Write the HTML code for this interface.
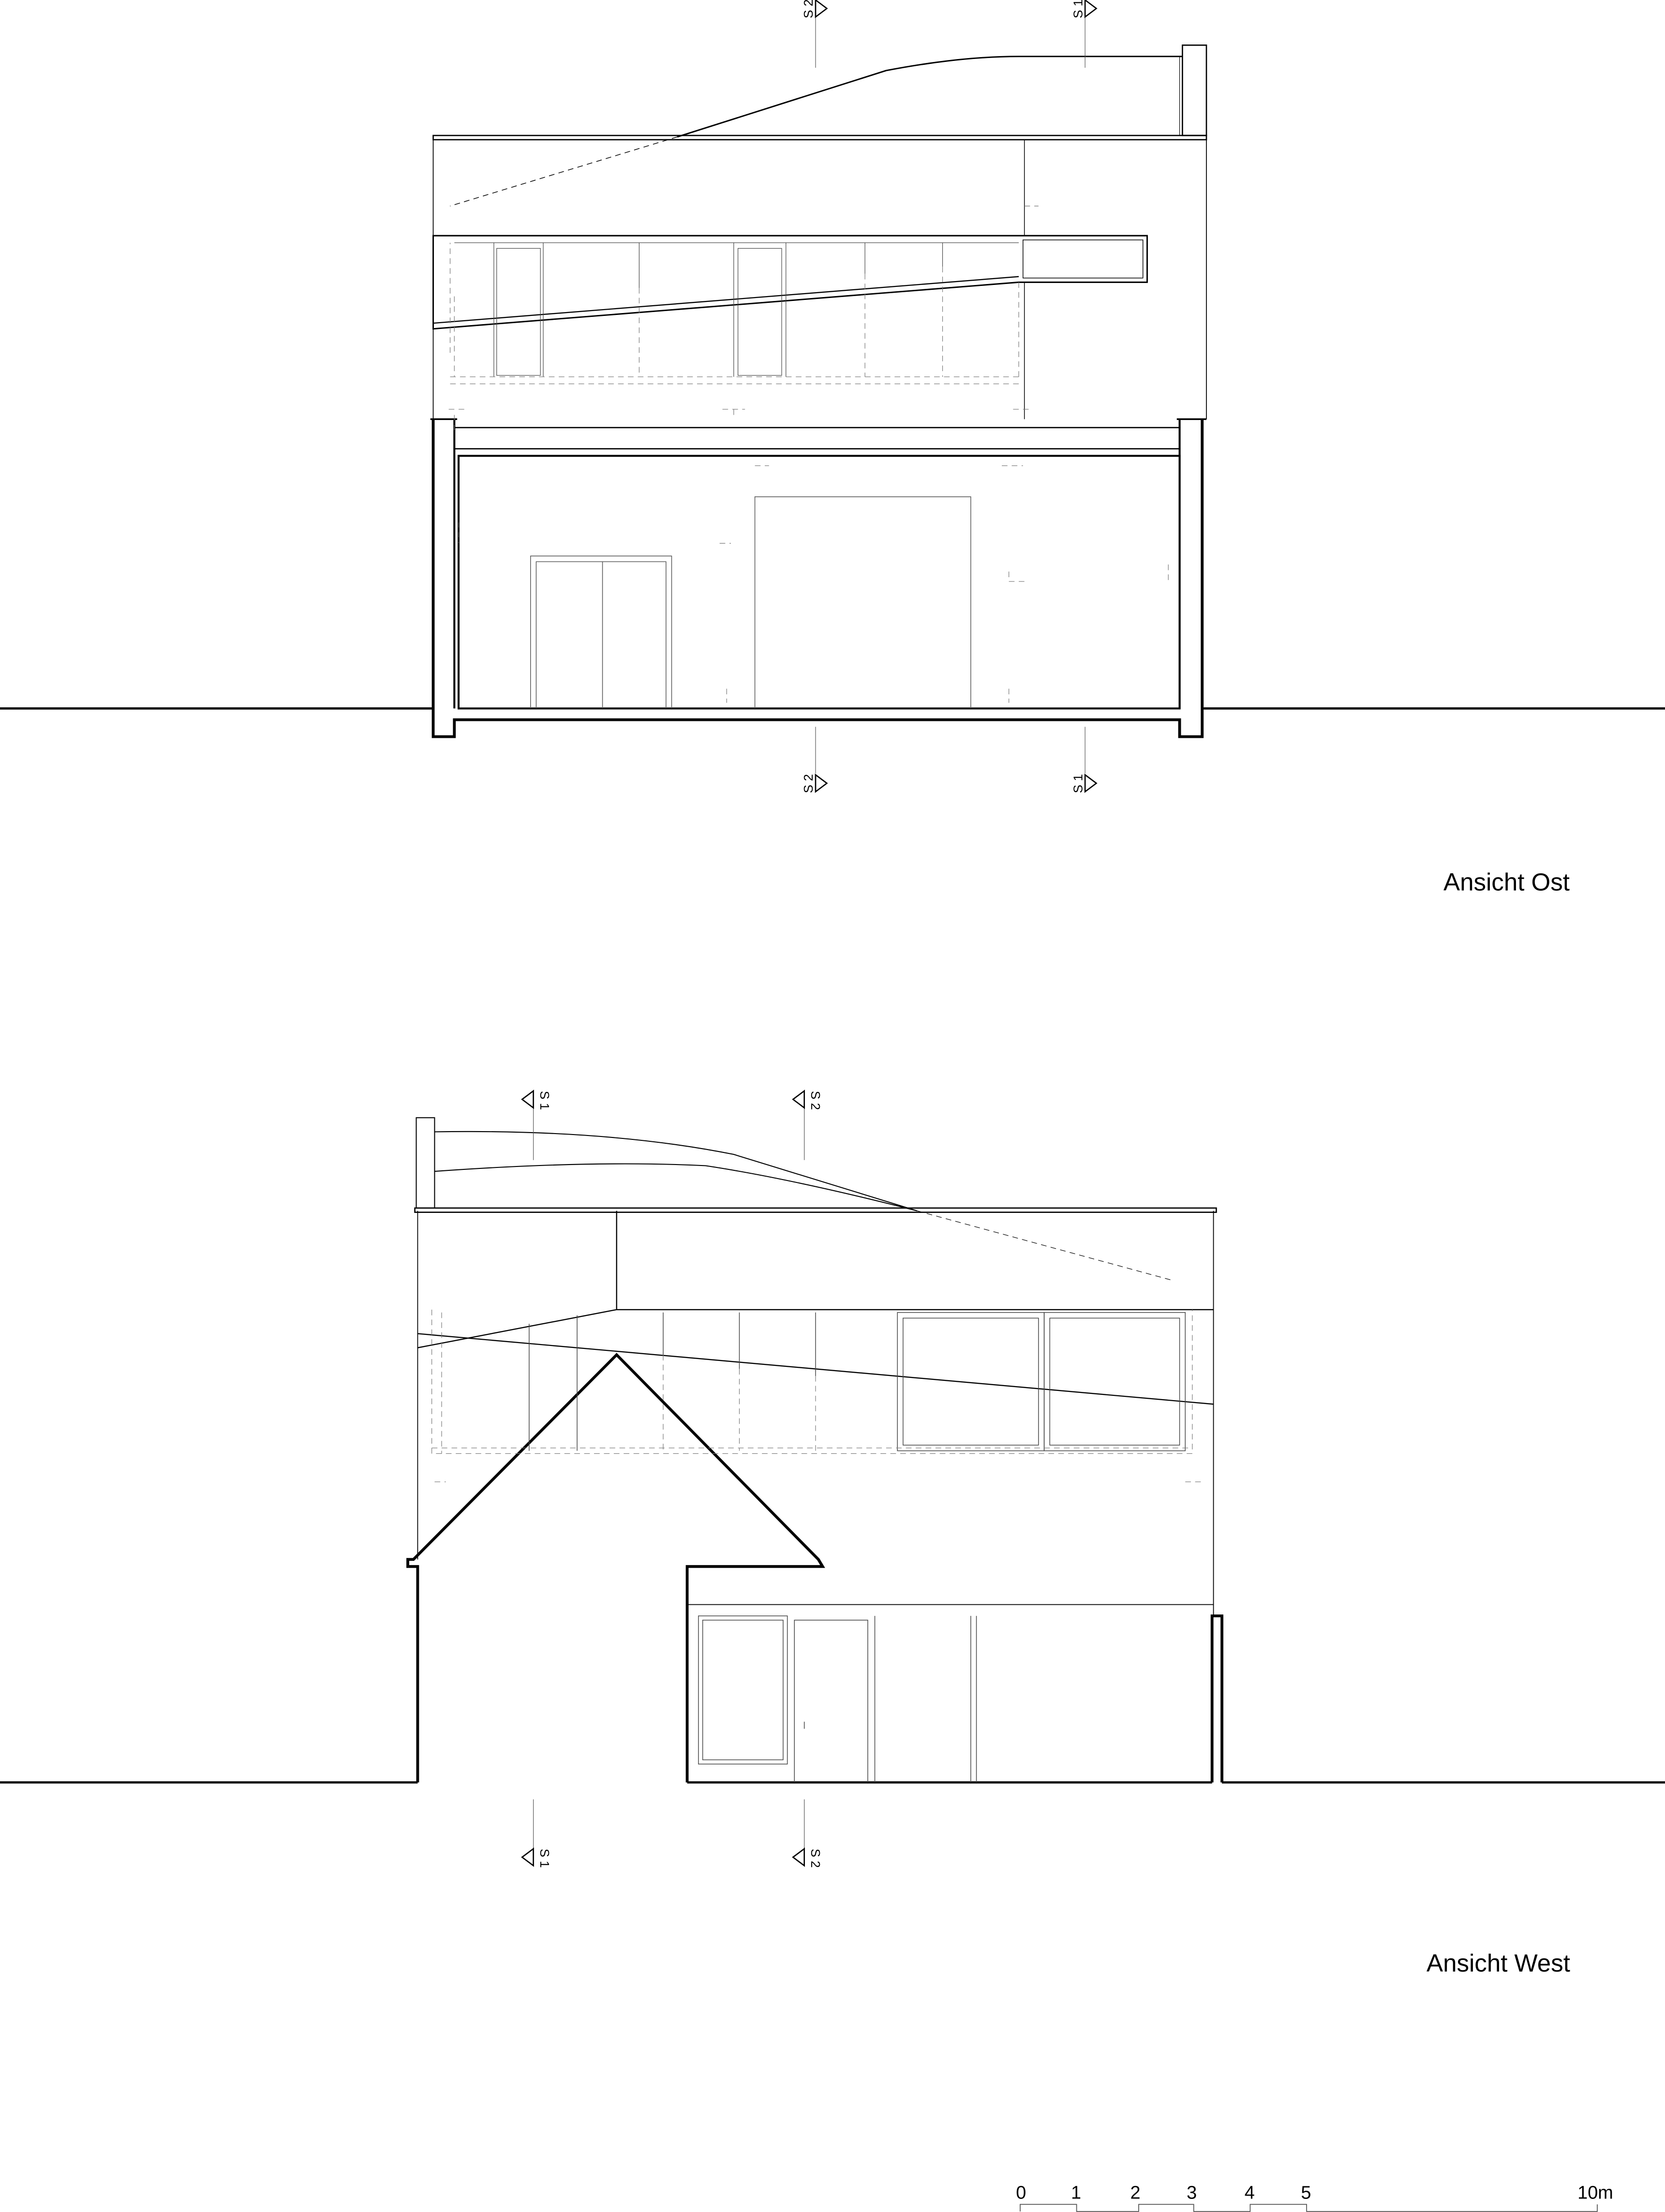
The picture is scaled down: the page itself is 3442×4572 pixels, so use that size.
<!DOCTYPE html>
<html><head><meta charset="utf-8"><style>
html,body{margin:0;padding:0;background:#fff;}
svg{display:block;}
text{font-family:"Liberation Sans",sans-serif;fill:#000;}
</style></head><body>
<svg width="3442" height="4572" viewBox="0 0 1180 1567.4" xmlns="http://www.w3.org/2000/svg">
<rect width="1180" height="1567.4" fill="#fff"/>
<g fill="none" stroke="#000">
<path d="M0 502H307M853 502H1180" stroke-width="1.6"/>
<path d="M307 297V522H322V510H836V522H852V297" stroke-width="2"/>
<path d="M322 297V502M836 297V502" stroke-width="1.4"/>
<path d="M305 297H324M834 297H855" stroke-width="1.2"/>
<rect x="325" y="323" width="511" height="179" stroke-width="1.4"/>
<path d="M322 303H836M322 318H836" stroke-width="0.9"/>
<path d="M307 99V297M855 99V297" stroke-width="0.6"/>
<rect x="307" y="96" width="548" height="3" stroke-width="0.9"/>
<path d="M726 99V167M726 200V297" stroke-width="0.5"/>
<path d="M480 97L628 50Q680 40 722 40H838" stroke-width="1"/>
<rect x="838" y="32" width="17" height="64" stroke-width="0.9"/>
<path d="M836 40V96" stroke-width="0.4"/>
<path d="M480 97L319 146" stroke-width="0.5" stroke-dasharray="4 3"/>
<path d="M307 167H813V200H722L307 233Z" stroke-width="1"/>
<path d="M307 229L722 196" stroke-width="0.8"/>
<rect x="725" y="170" width="85" height="27" stroke-width="0.5"/>
<g stroke-width="0.4" stroke="#444">
<path d="M322 172H722M350 172V267M385 172V267M453 172V204M520 172V267M557 172V267M613 172V194M668 172V189"/>
<rect x="352" y="176" width="31" height="90"/><rect x="523" y="176" width="31" height="90"/>
</g>
<g stroke-width="0.4" stroke="#777" stroke-dasharray="4 3">
<path d="M319 267H722M319 272H722M322 210V267M453 204V267M613 194V267M668 189V267M722 200V267M319 250V172"/>
<path d="M318 290H332M512 290H528M718 290H730M535 330H545M710 330H725M325 370V385M510 385H518M715 405V412H728M828 400V412M515 488V498M715 488V498M322 305V292M520 290V297M726 146H736"/>
</g>
<g stroke-width="0.5" stroke="#555">
<path d="M376 502V394H476V502M380 502V398H472V502M427 398V502"/>
<path d="M535 502V352H688V502"/>
</g>
<g stroke-width="0.4" stroke="#555"><path d="M578 10V48M769 10V48M578 515V548M769 515V548"/></g>
<g stroke-width="0.9"><path d="M578 0L586 6L578 12Z M769 0L777 6L769 12Z M578 549L586 555L578 561Z M769 549L777 555L769 561Z"/></g>
<path d="M0 1263H296M487 1263H859M866 1263H1180" stroke-width="1.6"/>
<path d="M296 1263V1110H289V1105H293L437 960L580 1105L583 1110H487V1263" stroke-width="2"/>
<path d="M859 1263V1145H866V1263" stroke-width="2"/>
<path d="M296 858V1105M860 858V1145" stroke-width="0.6"/>
<rect x="294" y="856" width="568" height="3" stroke-width="0.9"/>
<rect x="295" y="792" width="13" height="64" stroke-width="0.7"/>
<path d="M308 802Q430 800 520 818L650 858M308 830Q420 822 500 826Q560 835 650 858" stroke-width="0.7"/>
<path d="M650 858L830 907" stroke-width="0.4" stroke-dasharray="4 3"/>
<path d="M437 858V928M437 928H860M296 955L437 928M296 945L860 995" stroke-width="0.8"/>
<g stroke-width="0.5" stroke="#444">
<rect x="636" y="930" width="104" height="98"/><rect x="740" y="930" width="100" height="98"/>
<rect x="640" y="934" width="96" height="90"/><rect x="744" y="934" width="92" height="90"/>
<path d="M470 930V960M524 930V970M578 930V975M409 932V1028M375 938V1028"/>
</g>
<g stroke-width="0.4" stroke="#777" stroke-dasharray="4 3">
<path d="M306 928V1030H845V928M306 1026H845M313 930V1030M308 1050H316M840 1050H852M470 960V1028M524 970V1028M578 975V1028"/>
</g>
<path d="M487 1137H860" stroke-width="0.6"/>
<g stroke-width="0.5" stroke="#444">
<rect x="495" y="1145" width="63" height="105"/><rect x="498" y="1148" width="57" height="99"/>
<path d="M563 1263V1148H615V1263M620 1145V1263M688 1145V1263M692 1145V1263M570 1220V1225"/>
</g>
<g stroke-width="0.4" stroke="#555"><path d="M378 785V822M570 785V822M378 1275V1310M570 1275V1310"/></g>
<g stroke-width="0.9"><path d="M378 773L370 779L378 785Z M570 773L562 779L570 785Z M378 1310L370 1316L378 1322Z M570 1310L562 1316L570 1322Z"/></g>
<path d="M723 1567V1562H763V1567H807V1562H846V1567H886V1562H926V1567H1132V1562" stroke-width="0.6" stroke="#555"/>
</g>
<g font-size="9">
<text transform="translate(576,13) rotate(-90)">S 2</text>
<text transform="translate(767,13) rotate(-90)">S 1</text>
<text transform="translate(576,562) rotate(-90)">S 2</text>
<text transform="translate(767,562) rotate(-90)">S 1</text>
<text transform="translate(383,773) rotate(90)">S 1</text>
<text transform="translate(575,773) rotate(90)">S 2</text>
<text transform="translate(383,1310) rotate(90)">S 1</text>
<text transform="translate(575,1310) rotate(90)">S 2</text>
</g>
<text x="1023" y="631" font-size="17.5">Ansicht Ost</text>
<text x="1011" y="1397" font-size="17.5">Ansicht West</text>
<g font-size="13">
<text x="720" y="1558">0</text><text x="759" y="1558">1</text><text x="801" y="1558">2</text>
<text x="841" y="1558">3</text><text x="882" y="1558">4</text><text x="922" y="1558">5</text>
<text x="1118" y="1558">10m</text>
</g>
</svg>
</body></html>
